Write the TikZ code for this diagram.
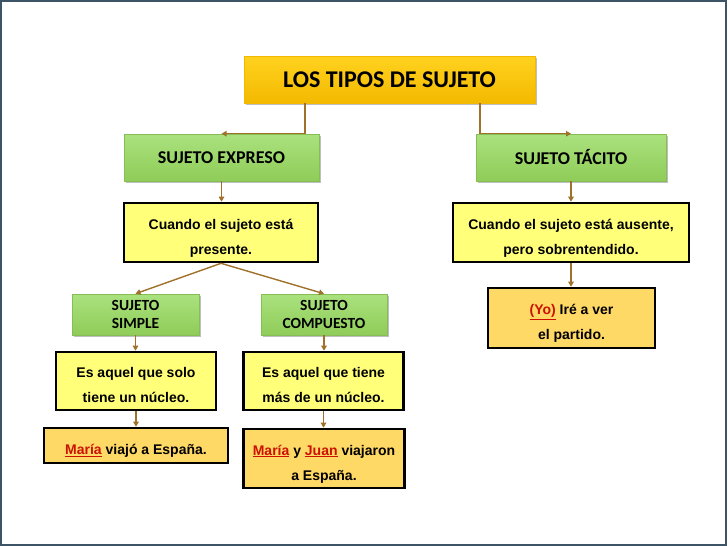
\documentclass[tikz,border=0pt]{standalone}
\usepackage{fontspec}
\setmainfont{Liberation Sans}
\newfontfamily\calib{Carlito}
\usetikzlibrary{arrows.meta,shadows}
\definecolor{gold}{HTML}{FFD21F}
\definecolor{goldD}{HTML}{F3B900}
\definecolor{greenT}{HTML}{AAE27E}
\definecolor{greenB}{HTML}{8FCC58}
\definecolor{greenE}{HTML}{86BE55}
\definecolor{paleY}{HTML}{FFFF7A}
\definecolor{paleO}{HTML}{FFD966}
\definecolor{conn}{HTML}{A0712A}
\definecolor{redw}{HTML}{CC1100}
\definecolor{frame}{HTML}{3D5366}
\newcommand{\rw}[1]{\textcolor{redw}{\underline{#1}}}
\newcommand{\topstr}{\rule{0pt}{22pt}}
\newcommand{\botstr}{\rule[-4pt]{0pt}{4pt}}
\tikzset{
  shad/.style={drop shadow={shadow xshift=1.5pt,shadow yshift=-1.5pt,opacity=0.25,fill=black}},
  titlebox/.style={shad,draw=goldD,line width=0.6pt,top color=gold,bottom color=goldD,inner sep=0pt,
    font=\calib\bfseries\fontsize{24}{27}\selectfont,text=black},
  greenbox/.style={shad,draw=greenE,line width=0.6pt,top color=greenT,bottom color=greenB,inner sep=0pt,
    align=center,font=\calib\bfseries\fontsize{15.5}{18}\selectfont,text=black},
  greenbig/.style={greenbox,font=\calib\bfseries\fontsize{18}{21}\selectfont},
  ybox/.style={draw=black,line width=2.6pt,fill=paleY,inner sep=0pt,align=center,
    font=\bfseries\fontsize{14}{25}\selectfont},
  obox/.style={draw=black,line width=2.6pt,fill=paleO,inner sep=0pt,align=center,
    font=\bfseries\fontsize{14}{25}\selectfont},
  arr/.style={draw=conn,line width=1.4pt,-{Triangle[width=5.5pt,length=5pt]}}
}
\begin{document}
\begin{tikzpicture}[x=1pt,y=-1pt]
\useasboundingbox (0,0) rectangle (728,546);
\fill[white] (0,0) rectangle (728,546);
\draw[frame,line width=1.8pt] (0.9,0.9) rectangle (726.3,544.9);

\node[titlebox,minimum width=291pt,minimum height=47pt] (top) at (389.5,79.5) {LOS TIPOS DE SUJETO};
\node[greenbig,minimum width=195pt,minimum height=47pt] (expreso) at (221.5,157.5) {SUJETO EXPRESO};
\node[greenbig,minimum width=190pt,minimum height=47pt] (tacito) at (571,157.5) {SUJETO TÁCITO};

\node[ybox,minimum width=194pt,minimum height=59pt] (pres) at (221,232.5) {\topstr Cuando el sujeto está\\presente.\botstr};
\node[ybox,minimum width=236pt,minimum height=59pt] (aus) at (571,232.5) {\topstr Cuando el sujeto está ausente,\\pero sobrentendido.\botstr};
\node[obox,minimum width=167pt,minimum height=60pt] (yo) at (571.5,318) {\topstr\rw{(Yo)} Iré a ver\\el partido.\botstr};

\node[greenbox,minimum width=127pt,minimum height=41pt] (simple) at (135.5,314.5) {SUJETO\\SIMPLE};
\node[greenbox,minimum width=126pt,minimum height=41pt] (comp) at (324,314.5) {SUJETO\\COMPUESTO};

\node[ybox,minimum width=160pt,minimum height=58pt] (solo) at (136,381) {\topstr Es aquel que solo\\ tiene un núcleo.\botstr};
\node[ybox,minimum width=160pt,minimum height=58pt] (mas) at (323.5,381) {\topstr Es aquel que tiene\\más de un núcleo.\botstr};

\node[obox,minimum width=184pt,minimum height=35pt] (m1) at (136,445.5) {\topstr\rw{María} viajó a España.\botstr};
\node[obox,minimum width=161pt,minimum height=59pt] (m2) at (324,458.5) {\topstr\rw{María} y \rw{Juan} viajaron\\a España.\botstr};

\coordinate (cl) at (305,103);
\coordinate (cr) at (480,103);
\draw[arr] (cl) |- (expreso.north);
\draw[arr] (cr) |- (tacito.north);
\draw[arr] (expreso.south) -- (expreso.south |- pres.north);
\draw[arr] (tacito.south) -- (tacito.south |- aus.north);
\draw[arr] (aus.south) -- (aus.south |- yo.north);
\draw[arr] (pres.south) -- (simple.north);
\draw[arr] (pres.south) -- (comp.north);
\draw[arr] (simple.south) -- (simple.south |- solo.north);
\draw[arr] (comp.south) -- (comp.south |- mas.north);
\draw[arr] (solo.south) -- (solo.south |- m1.north);
\draw[arr] (mas.south) -- (mas.south |- m2.north);
\end{tikzpicture}
\end{document}
